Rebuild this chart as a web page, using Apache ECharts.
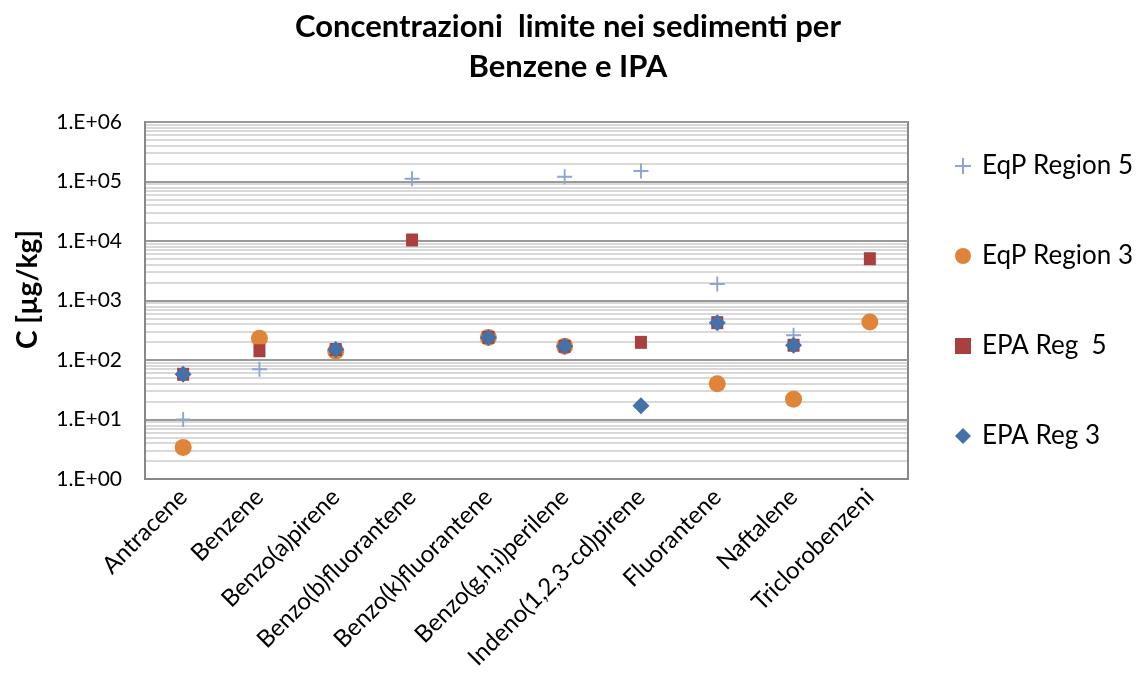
<!DOCTYPE html>
<html><head><meta charset="utf-8">
<script src="https://cdn.jsdelivr.net/npm/echarts@6/dist/echarts.min.js"></script>
<style>html,body{margin:0;padding:0;background:#fff}#c{width:1136px;height:673px}</style>
</head><body><div id="c"></div>
<script>
var categories = ['Antracene','Benzene','Benzo(a)pirene','Benzo(b)fluorantene','Benzo(k)fluorantene','Benzo(g,h,i)perilene','Indeno(1,2,3-cd)pirene','Fluorantene','Naftalene','Triclorobenzeni'];
var eqpRegion5 = [10, 70, 150, 111000, 240, 120000, 150000, 1890, 260, null];
var eqpRegion3 = [3.4, 232, 140, null, 240, 170, null, 40, 22, 435];
var epaReg5 = [57.5, 143, 150, 10400, 240, 170, 198, 424, 177, 5040];
var epaReg3 = [57.5, null, 150, null, 240, 170, 17, 424, 177, null];
var yTicks = [1, 10, 100, 1000, 10000, 100000, 1000000];
var minorLines = [];
for (var d = 0; d < 6; d++) { for (var m = 2; m <= 9; m++) { minorLines.push(m * Math.pow(10, d)); } }

var font = 'Lato, "Open Sans", sans-serif';
function dat(a){ return a.map(function(v){ return v == null ? '-' : v; }); }
var chart = echarts.init(document.getElementById('c'), null, {renderer:'canvas'});
chart.setOption({
  animation:false,
  backgroundColor:'#fff',
  title:{ text:'Concentrazioni  limite nei sedimenti per\nBenzene e IPA', left:'center', top:2,
    textStyle:{fontFamily:font, fontSize:31, fontWeight:'bold', color:'#000', lineHeight:40}},
  grid:{ left:145, right:228, top:122, bottom:194, show:true, borderColor:'#888', borderWidth:2 },
  legend:{ orient:'vertical', left:950, top:148, itemGap:64, itemWidth:16, itemHeight:16,
    textStyle:{fontFamily:font, fontSize:26, color:'#000', lineHeight:26, padding:[0,0,0,6]},
    data:['EqP Region 5','EqP Region 3','EPA Reg  5','EPA Reg 3'] },
  xAxis:{ type:'category', data:categories, boundaryGap:true,
    axisLine:{show:true, lineStyle:{color:'#888', width:2}}, axisTick:{show:false},
    axisLabel:{ rotate:45, interval:0, fontFamily:font, fontSize:24, color:'#000', margin:14 },
    splitLine:{show:false} },
  yAxis:{ type:'log', logBase:10, min:1, max:1000000,
    name:'C [µg/kg]', nameLocation:'middle', nameGap:103,
    nameTextStyle:{fontFamily:font, fontSize:28, fontWeight:'bold', color:'#000', padding:[0,0,0,22]},
    axisLine:{show:true, lineStyle:{color:'#888', width:2}}, axisTick:{show:false},
    axisLabel:{ fontFamily:font, fontSize:21, color:'#000', margin:23,
      formatter:function(v){ var e = Math.round(Math.log10(v)); return '1.E+' + (e<10?'0':'') + e; } },
    splitLine:{show:true, lineStyle:{color:'#999', width:2}} },
  series:[
    { name:'EqP Region 5', type:'scatter', data:dat(eqpRegion5),
      symbol:'path://M7,0H9V7H16V9H9V16H7V9H0V7H7Z', symbolSize:15,
      itemStyle:{color:'#8CA5D4', opacity:1},
      markLine:{ silent:true, symbol:['none','none'], label:{show:false}, animation:false,
        lineStyle:{color:'#d9d9d9', type:'solid', width:2}, z:-1,
        data: minorLines.map(function(v){ return {yAxis:v}; }) } },
    { name:'EqP Region 3', type:'scatter', data:dat(eqpRegion3), symbol:'circle', symbolSize:17,
      itemStyle:{color:'#E0843A', opacity:1} },
    { name:'EPA Reg  5', type:'scatter', data:dat(epaReg5), symbol:'rect', symbolSize:[12,13],
      itemStyle:{color:'#A9403E', opacity:1} },
    { name:'EPA Reg 3', type:'scatter', data:dat(epaReg3), symbol:'diamond', symbolSize:[17,17],
      itemStyle:{color:'#4472A8', opacity:1} }
  ]
});
</script></body></html>
